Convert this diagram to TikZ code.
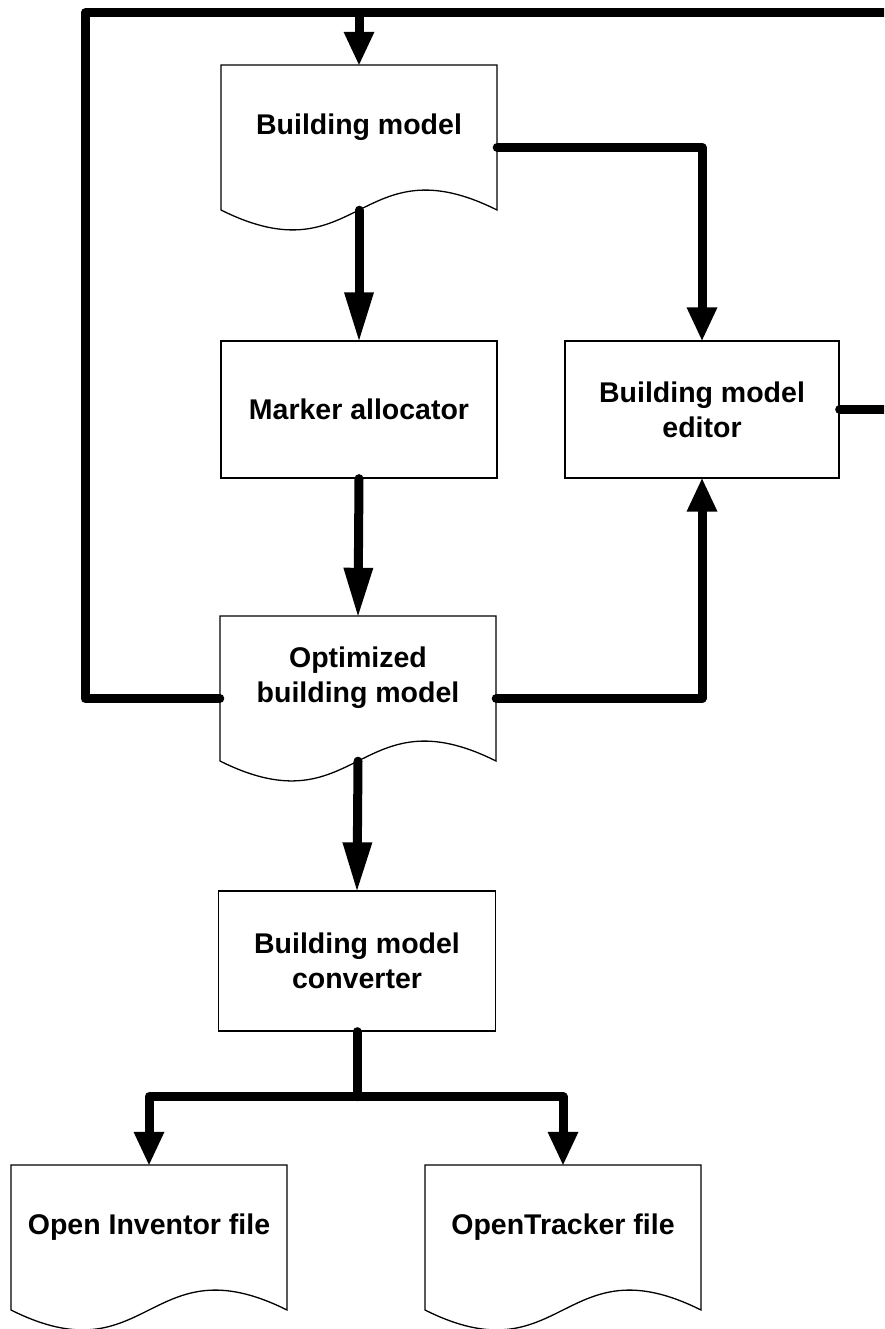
\documentclass[tikz,border=0pt]{standalone}
\usepackage{fontspec}
\setmainfont{Liberation Sans}
\usetikzlibrary{arrows.meta}

\newcommand\diagfont{\fontsize{28.5}{35}\selectfont\bfseries}

\tikzset{
  outline/.style={draw=black, line width=1.3pt},
  procbox/.style={outline, rectangle, minimum width=276pt, minimum height=137pt,
                  inner sep=0pt, font=\diagfont, align=center},
  docframe/.style={rectangle, minimum width=276pt, minimum height=165pt, inner sep=0pt},
  doclabel/.style={font=\diagfont, align=center, inner sep=0pt},
  flow/.style={line width=9pt, line cap=round, line join=round},
  shorthead/.style={-{Triangle[length=33pt,width=31pt,line width=0pt]}},
  longhead/.style={-{Triangle[length=48pt,width=30pt,line width=0pt]}},
}

% document symbol: name, centre x, top y, label
\newcommand\docshape[4]{%
  \node[docframe] (#1) at (#2, #3+82.5) {};
  \draw[outline] (#2-138, #3) -- (#2+138, #3) -- (#2+138, #3+145)
     .. controls (#2, #3+76) and (#2, #3+214) .. (#2-138, #3+145) -- cycle;
  \node[doclabel] (#1-label) at (#2, #3+62) {#4};
}

\begin{document}
\begin{tikzpicture}[x=1pt, y=-1pt]
  \useasboundingbox (0,0) rectangle (884,1329);
  \clip (0,0) rectangle (884,1329);

  % shapes
  \docshape{bm}{359}{65}{Building model}
  \node[procbox] (ma) at (359,409.5) {Marker allocator};
  \node[procbox, minimum width=274pt] (ed) at (702,409.5) {Building model\\editor};
  \docshape{opt}{358}{616}{Optimized\\building model}
  \node[procbox, minimum width=277pt, minimum height=140pt] (conv) at (357,961) {Building model\\converter};
  \docshape{oi}{149}{1165}{Open Inventor file}
  \docshape{ot}{563}{1165}{OpenTracker file}

  % feedback loop along the top
  \coordinate (tl) at (85,13);
  \coordinate (tr) at (910,13);
  \coordinate (feed) at (359,13);
  \draw[flow] (opt.west) -| (tl) -- (tr) |- (ed.east);
  \draw[flow, shorthead] (feed) -- (bm.north);

  % main flow
  \draw[flow, shorthead] (bm.east) -| (ed.north);
  \draw[flow, longhead] ([yshift=20pt]bm.south) -- (ma.north);
  \draw[flow, longhead] (ma.south) -- (opt.north);
  \draw[flow, shorthead] (opt.east) -| (ed.south);
  \draw[flow, longhead] ([yshift=20pt]opt.south) -- (conv.north);

  % converter outputs
  \path (conv.south) ++(0,65) coordinate (split);
  \draw[flow] (conv.south) -- (split);
  \draw[flow, shorthead] (split) -| (oi.north);
  \draw[flow, shorthead] (split) -| (ot.north);
\end{tikzpicture}
\end{document}
